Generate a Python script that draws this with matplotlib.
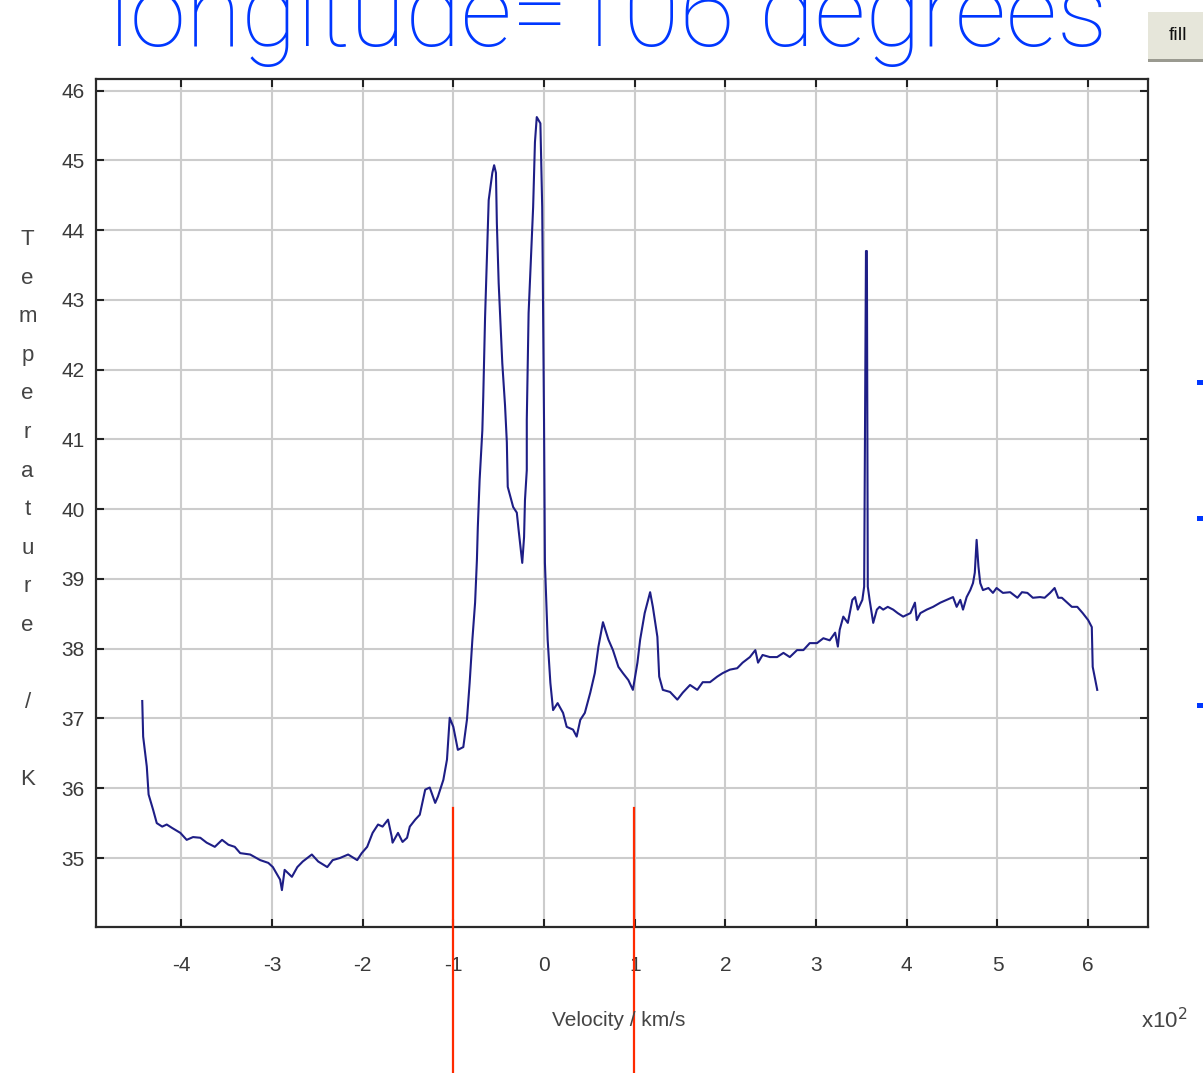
import matplotlib
matplotlib.use("Agg")
import matplotlib.pyplot as plt
from matplotlib.patches import Rectangle
from matplotlib.transforms import blended_transform_factory

plt.rcParams['axes.unicode_minus'] = False
plt.rcParams['font.family'] = ['Liberation Sans', 'DejaVu Sans']

# spectrum: velocity [km/s], brightness temperature [K]
velocity = [-443, -442, -438, -436, -431, -427, -421, -416, -410, -401,
            -394, -387, -379, -372, -363, -355, -348, -341, -335, -324,
            -313, -304, -299, -291, -289, -286, -278, -272, -266, -256,
            -249, -239, -233, -225, -216, -206, -201, -195, -189, -183,
            -178, -172, -168, -167, -161, -156, -151, -148, -142, -137,
            -133, -131, -126, -120, -117, -111, -107, -104, -100, -95,
            -89, -85, -82, -79, -76, -74, -73, -71, -68, -67,
            -65, -63, -61, -57, -55, -53, -52, -50, -46, -43,
            -41, -40, -34, -30, -28, -24, -22, -21, -19, -19,
            -17, -12, -10, -8, -4, -2, 0, 1, 4, 7,
            10, 15, 21, 25, 32, 36, 40, 45, 51, 56,
            60, 65, 71, 76, 82, 87, 93, 98, 103, 106,
            111, 117, 120, 125, 127, 131, 139, 147, 153, 161,
            169, 175, 183, 191, 197, 205, 213, 219, 227, 233,
            236, 241, 249, 257, 264, 271, 279, 286, 293, 301,
            308, 315, 321, 324, 326, 330, 335, 340, 343, 346,
            351, 353, 355, 356, 357, 359, 363, 367, 370, 374,
            379, 385, 390, 396, 404, 409, 411, 415, 422, 429,
            437, 444, 451, 455, 459, 462, 466, 470, 473, 475,
            477, 479, 481, 484, 490, 495, 499, 506, 514, 522,
            527, 533, 539, 547, 552, 558, 563, 567, 571, 577,
            582, 588, 594, 600, 604, 605, 610]
temperature = [37.25, 36.74, 36.31, 35.91, 35.69, 35.50, 35.45, 35.48, 35.43, 35.36,
               35.26, 35.30, 35.29, 35.22, 35.16, 35.26, 35.19, 35.16, 35.07, 35.05,
               34.97, 34.93, 34.87, 34.69, 34.54, 34.83, 34.73, 34.87, 34.95, 35.05,
               34.95, 34.87, 34.97, 35.00, 35.05, 34.97, 35.07, 35.16, 35.36, 35.48,
               35.45, 35.55, 35.31, 35.22, 35.36, 35.23, 35.29, 35.45, 35.55, 35.62,
               35.86, 35.98, 36.01, 35.79, 35.88, 36.12, 36.41, 37.01, 36.88, 36.55,
               36.59, 36.98, 37.51, 38.13, 38.66, 39.27, 39.74, 40.42, 41.13, 41.61,
               42.75, 43.61, 44.43, 44.82, 44.93, 44.82, 44.10, 43.24, 42.09, 41.49,
               40.96, 40.32, 40.03, 39.95, 39.70, 39.23, 39.60, 40.13, 40.56, 41.28,
               42.81, 44.33, 45.26, 45.62, 45.53, 44.33, 41.28, 39.23, 38.13, 37.51,
               37.12, 37.22, 37.08, 36.88, 36.84, 36.74, 36.98, 37.08, 37.37, 37.65,
               38.03, 38.38, 38.13, 37.98, 37.74, 37.65, 37.55, 37.41, 37.80, 38.13,
               38.51, 38.81, 38.60, 38.17, 37.60, 37.41, 37.38, 37.27, 37.37, 37.48,
               37.41, 37.52, 37.52, 37.60, 37.65, 37.70, 37.72, 37.80, 37.88, 37.98,
               37.80, 37.91, 37.88, 37.88, 37.94, 37.88, 37.98, 37.98, 38.08, 38.08,
               38.15, 38.12, 38.23, 38.03, 38.27, 38.46, 38.37, 38.70, 38.74, 38.56,
               38.70, 38.89, 43.70, 43.70, 38.89, 38.70, 38.37, 38.56, 38.60, 38.56,
               38.60, 38.56, 38.51, 38.46, 38.51, 38.66, 38.41, 38.51, 38.56, 38.60,
               38.66, 38.70, 38.74, 38.60, 38.70, 38.56, 38.74, 38.84, 38.94, 39.09,
               39.56, 39.18, 38.94, 38.84, 38.87, 38.80, 38.87, 38.80, 38.81, 38.73,
               38.81, 38.80, 38.73, 38.74, 38.73, 38.80, 38.87, 38.73, 38.73, 38.66,
               38.60, 38.60, 38.51, 38.41, 38.31, 37.74, 37.41]

xticks = [-400, -300, -200, -100, 0, 100, 200, 300, 400, 500, 600]
xticklabels = ['-4', '-3', '-2', '-1', '0', '1', '2', '3', '4', '5', '6']
yticks = list(range(35, 47))
markers = [-100, 99]   # red velocity markers

fig = plt.figure(figsize=(12.03, 10.73), dpi=100)
ax = fig.add_axes([0.0798, 0.136, 0.8745, 0.790])

ax.plot(velocity, temperature, color='#1e1e86', lw=1.5, zorder=3)

ax.set_xlim(-494, 666)
ax.set_ylim(34.01, 46.16)
ax.set_xticks(xticks)
ax.set_xticklabels(xticklabels)
ax.set_yticks(yticks)
ax.grid(True, color='#cccccc', lw=1.5)
ax.set_axisbelow(True)
ax.tick_params(direction='in', length=6, width=1.5, colors='#222222',
               top=True, right=True, labelsize=15, labelcolor='#3a3a3a')
ax.tick_params(axis='x', pad=21)
ax.tick_params(axis='y', pad=8)
for s in ax.spines.values():
    s.set_linewidth(1.6)
    s.set_color('#2a2a2a')

# vertical stacked y label
fig.text(0.023, 0.525, '\n'.join(list('Temperature / K')), ha='center', va='center',
         fontsize=16, color='#444444', linespacing=2.1)
fig.text(0.514, 0.049, 'Velocity / km/s', ha='center', va='center',
         fontsize=15, color='#444444')
fig.text(0.968, 0.049, r'x10$^2$', ha='center', va='center',
         fontsize=16, color='#444444')

# title
fig.text(0.506, 0.957, 'longitude=106 degrees', ha='center', va='baseline',
         fontsize=73, color='#0037ff', family=['Roboto', 'DejaVu Sans'],
         fontweight='light')

# red marker lines reaching below the axes
tr = blended_transform_factory(ax.transData, fig.transFigure)
for m in markers:
    ax.plot([m, m], [0.0, 0.247], color='#ff2a00', lw=1.6, transform=tr,
            clip_on=False, zorder=5)

# "fill" button at top right
fig.patches.append(Rectangle((0.954, 0.944), 0.05, 0.045, transform=fig.transFigure,
                             facecolor='#e6e6da', edgecolor='none'))
fig.patches.append(Rectangle((0.954, 0.942), 0.05, 0.003, transform=fig.transFigure,
                             facecolor='#9a9a90', edgecolor='none'))
fig.text(0.979, 0.967, 'fill', ha='center', va='center', fontsize=14, color='#111111')

# fragments of blue marks at the right edge
for yy in [0.641, 0.514, 0.340]:
    fig.patches.append(Rectangle((0.995, yy), 0.006, 0.005, transform=fig.transFigure,
                                 facecolor='#0037ff', edgecolor='none'))

fig.savefig('out.png', dpi=100)
